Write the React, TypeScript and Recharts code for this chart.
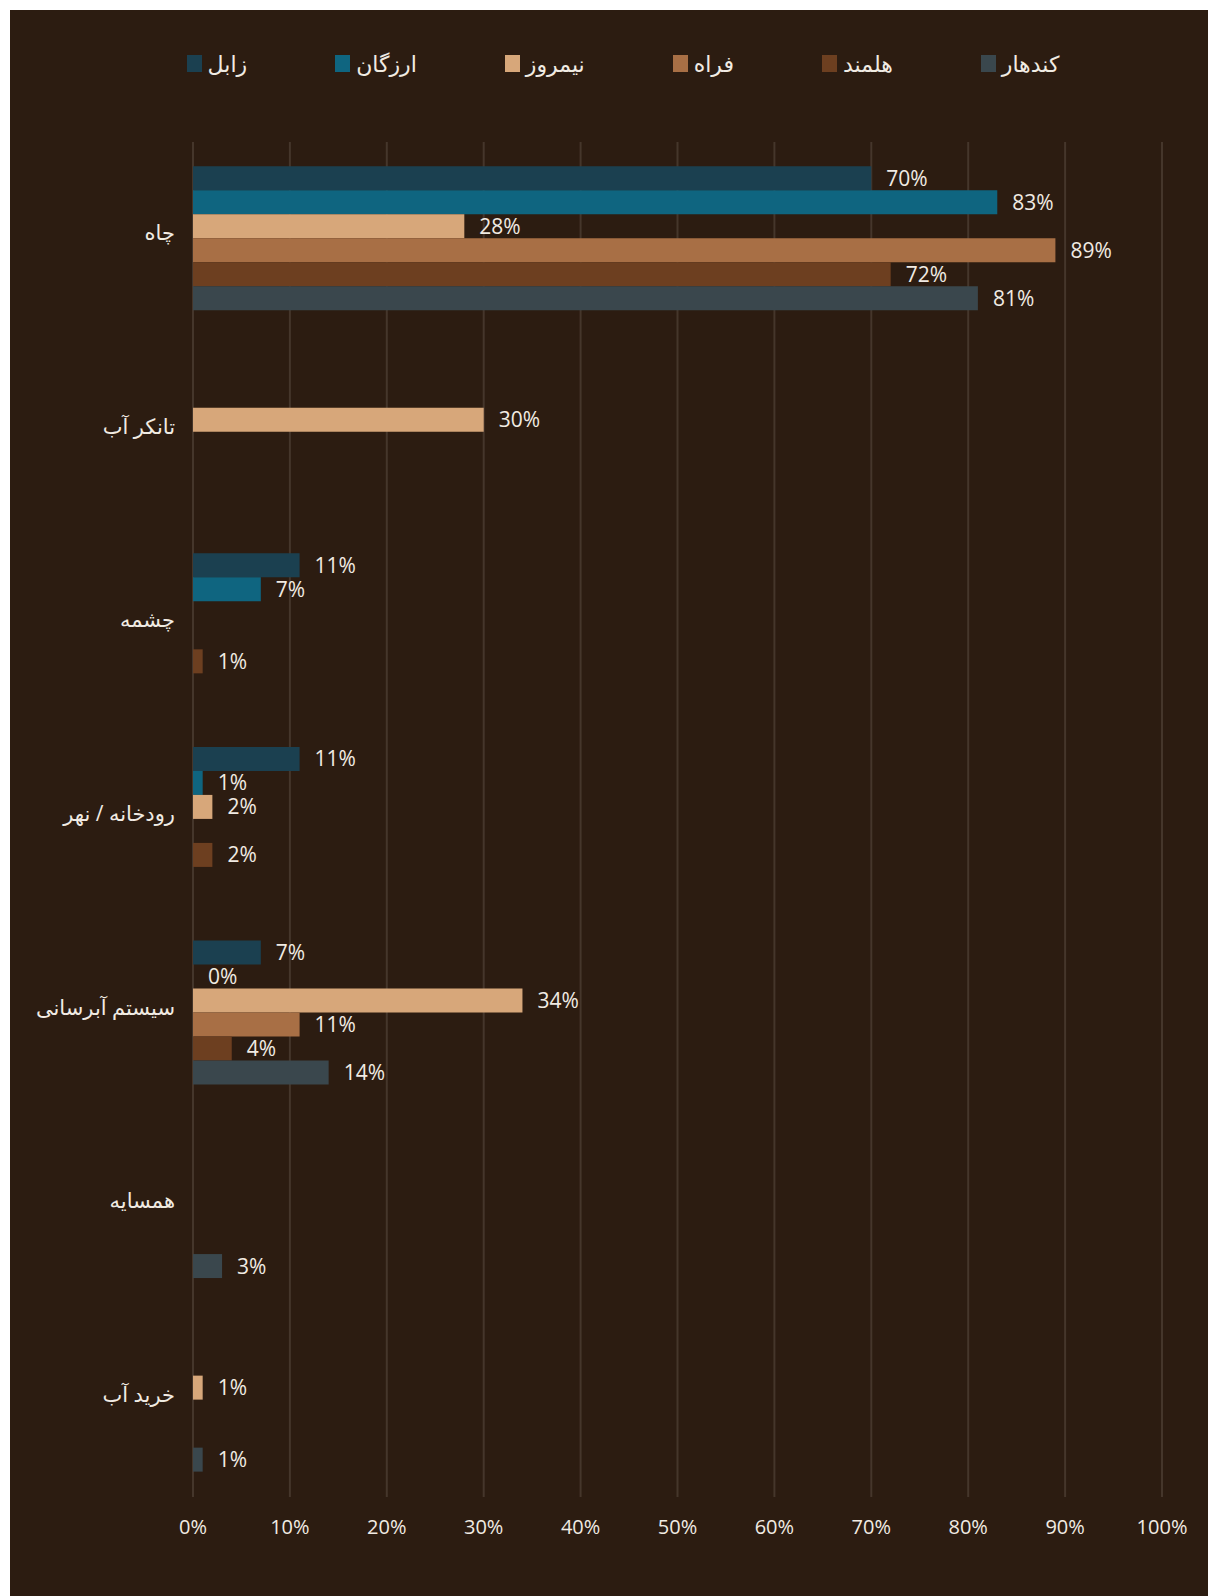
import React from 'react';
import {
  BarChart,
  Bar,
  XAxis,
  YAxis,
  CartesianGrid,
  Legend,
  LabelList,
} from 'recharts';

const categories = [
  'چاه',
  'تانکر آب',
  'چشمه',
  'رودخانه / نهر',
  'سیستم آبرسانی',
  'همسایه',
  'خرید آب',
];

// one array per province, in category order (null = no bar, no label)
const zabul = [70, null, 11, 11, 7, null, null];
const uruzgan = [83, null, 7, 1, 0, null, null];
const nimroz = [28, 30, null, 2, 34, null, 1];
const farah = [89, null, null, null, 11, null, null];
const helmand = [72, null, 1, 2, 4, null, null];
const kandahar = [81, null, null, null, 14, 3, 1];

const xTicks = [0, 10, 20, 30, 40, 50, 60, 70, 80, 90, 100];

const series = [
  { key: 'zabul', name: 'زابل', values: zabul, color: '#1B4050' },
  { key: 'uruzgan', name: 'ارزگان', values: uruzgan, color: '#0F6580' },
  { key: 'nimroz', name: 'نیمروز', values: nimroz, color: '#D7A77A' },
  { key: 'farah', name: 'فراه', values: farah, color: '#A86F45' },
  { key: 'helmand', name: 'هلمند', values: helmand, color: '#6D3F20' },
  { key: 'kandahar', name: 'کندهار', values: kandahar, color: '#3A474D' },
];

const TEXT = '#F1EBE3';
const FONT = "'Open Sans', 'DejaVu Sans', sans-serif";

const chartData = categories.map((name, i) => {
  const row: Record<string, string | number | null> = { name };
  series.forEach((s) => {
    row[s.key] = s.values[i];
  });
  return row;
});

// legend keeps the series order (recharts would sort it by name)
const LegendContent = () => (
  <div
    style={{
      display: 'flex',
      justifyContent: 'center',
      gap: 88,
      fontFamily: FONT,
      fontSize: 22,
      color: TEXT,
    }}
  >
    {series.map((s) => (
      <div key={s.key} style={{ display: 'flex', alignItems: 'center', gap: 6 }}>
        <span style={{ width: 15, height: 17, background: s.color, display: 'inline-block' }} />
        <span>{s.name}</span>
      </div>
    ))}
  </div>
);

export default function App() {
  return (
    <div style={{ padding: '10px 0 0 10px' }}>
      <style>{'body{margin:0;overflow:hidden}'}</style>
      <div style={{ width: 1198, height: 1586, background: '#2C1C11' }}>
        <BarChart
          width={1198}
          height={1586}
          data={chartData}
          layout="vertical"
          margin={{ top: 132, right: 46, bottom: 59, left: 0 }}
          barCategoryGap="12.5%"
          barGap={0}
          style={{ fontFamily: FONT }}
        >
          <CartesianGrid horizontal={false} stroke="#45362B" strokeWidth={2} />
          <XAxis
            type="number"
            domain={[0, 100]}
            ticks={xTicks}
            tickFormatter={(v) => `${v}%`}
            axisLine={false}
            tickLine={false}
            tickMargin={17}
            height={40}
            tick={{ fill: TEXT, fontSize: 20 }}
          />
          <YAxis
            type="category"
            dataKey="name"
            width={183}
            axisLine={false}
            tickLine={false}
            tickMargin={12}
            tick={{ fill: TEXT, fontSize: 21, dy: -6 }}
          />
          <Legend
            verticalAlign="middle"
            layout="horizontal"
            wrapperStyle={{ top: 38, left: 14, width: 1198 }}
            content={<LegendContent />}
          />
          {series.map((s) => (
            <Bar
              key={s.key}
              dataKey={s.key}
              name={s.name}
              fill={s.color}
              minPointSize={((v: any) => (v === 0 ? 0.01 : 0)) as any}
              isAnimationActive={false}
            >
              <LabelList
                dataKey={s.key}
                position="right"
                offset={15}
                fill={TEXT}
                fontSize={21}
                formatter={((v: any) => (v == null ? '' : `${v}%`)) as any}
              />
            </Bar>
          ))}
        </BarChart>
      </div>
    </div>
  );
}
